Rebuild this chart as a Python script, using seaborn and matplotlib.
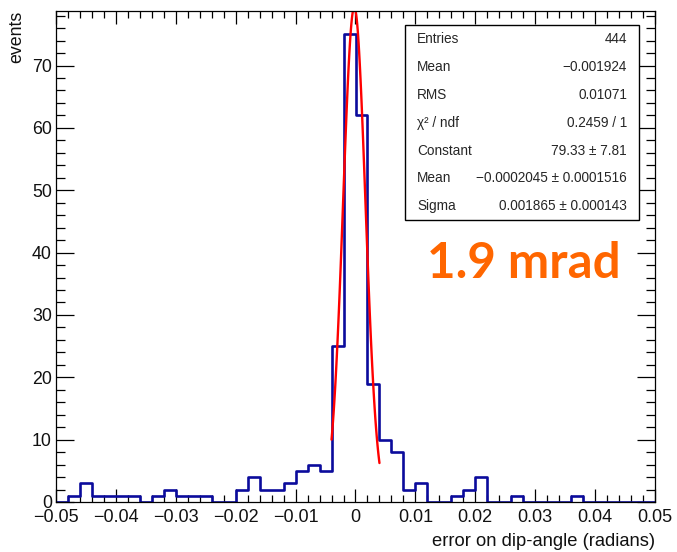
import numpy as np
import pandas as pd
import matplotlib
matplotlib.use("Agg")
import matplotlib.pyplot as plt
import seaborn as sns
from matplotlib.patches import Rectangle
from matplotlib.ticker import MultipleLocator

# ---- data ----
bin_lo = -0.05
bin_hi = 0.05
bin_width = 0.002
counts = [0, 1, 3, 1, 1, 1, 1, 0, 1, 2,
          1, 1, 1, 0, 0, 2, 4, 2, 2, 3,
          5, 6, 5, 25, 75, 62, 19, 10, 8, 2,
          3, 0, 0, 1, 2, 4, 0, 0, 1, 0,
          0, 0, 0, 1, 0, 0, 0, 0, 0, 0]
fit_const = 79.33
fit_mean = -0.0002045
fit_sigma = 0.001865
fit_range = [-0.004, 0.004]
stat_names = ["Entries", "Mean", "RMS", "χ² / ndf", "Constant", "Mean", "Sigma"]
stat_values = ["444", "−0.001924", "0.01071", "0.2459 / 1", "79.33 ± 7.81",
               "−0.0002045 ± 0.0001516", "0.001865 ± 0.000143"]
x_title = "error on dip-angle (radians)"
y_title = "events"
note = "1.9 mrad"

sns.set_theme(style="white")
plt.rcParams["font.family"] = ["Liberation Sans", "DejaVu Sans"]

W, H = 677, 552
fig = plt.figure(figsize=(W / 100, H / 100), dpi=100)
fx = lambda px: px / W
fy = lambda py: 1 - py / H
ax = fig.add_axes([fx(56), fy(502), (655 - 56) / W, (502 - 11) / H])

edges = [round(bin_lo + i * bin_width, 6) for i in range(len(counts) + 1)]
centers = [(edges[i] + edges[i + 1]) / 2 for i in range(len(counts))]
df = pd.DataFrame({"x": centers, "w": counts})
sns.histplot(data=df, x="x", weights="w", bins=edges, element="step", fill=False,
             color="#0b0b9c", linewidth=1.9, ax=ax)

xf = np.linspace(fit_range[0], fit_range[1], 100)
yf = fit_const * np.exp(-0.5 * ((xf - fit_mean) / fit_sigma) ** 2)
sns.lineplot(x=xf, y=yf, color="#ff0000", linewidth=1.7, ax=ax)

ax.set_xlim(bin_lo, bin_hi)
ax.set_ylim(0, 1.05 * max(counts))
ax.xaxis.set_major_locator(MultipleLocator(0.01))
ax.xaxis.set_minor_locator(MultipleLocator(0.002))
ax.yaxis.set_major_locator(MultipleLocator(10))
ax.yaxis.set_minor_locator(MultipleLocator(2))
ax.tick_params(axis="x", which="both", direction="in", top=True, bottom=True,
               labelsize=13, pad=5, width=0.9, color="black", labelcolor="#111111")
ax.tick_params(axis="x", which="major", length=9.5)
ax.tick_params(axis="x", which="minor", length=4.8)
ax.tick_params(axis="y", which="both", direction="in", left=True, right=True,
               labelsize=12.8, pad=3, width=0.9, color="black", labelcolor="#111111")
ax.tick_params(axis="y", which="major", length=13)
ax.tick_params(axis="y", which="minor", length=6.5)
ax.xaxis.set_major_formatter(matplotlib.ticker.FuncFormatter(
    lambda v, p: ("0" if abs(v) < 1e-9 else f"{v:.2f}".replace("-", "−"))))
for s in ax.spines.values():
    s.set_color("black")
    s.set_linewidth(0.9)
ax.set_xlabel(x_title, loc="right", fontsize=13.2, labelpad=5, color="#111111")
ax.set_ylabel(y_title, loc="top", fontsize=12.8, labelpad=5, color="#111111")

# stats box
box = Rectangle((fx(405), fy(220)), (639 - 405) / W, (220 - 25) / H,
                transform=fig.transFigure, facecolor="white", edgecolor="black",
                linewidth=1.0, zorder=5)
fig.patches.append(box)
row_y = [39, 67, 95, 123, 151, 178, 206]
for name, val, yy in zip(stat_names, stat_values, row_y):
    fig.text(fx(417), fy(yy), name, ha="left", va="center", fontsize=9.8, zorder=6)
    fig.text(fx(627), fy(yy), val, ha="right", va="center", fontsize=9.8, zorder=6)

fig.text(fx(427), fy(278), note, ha="left", va="baseline", fontsize=35.5,
         fontweight="bold", color="#ff6600", family=["Lato", "DejaVu Sans"])

fig.savefig("out.png", dpi=100)
